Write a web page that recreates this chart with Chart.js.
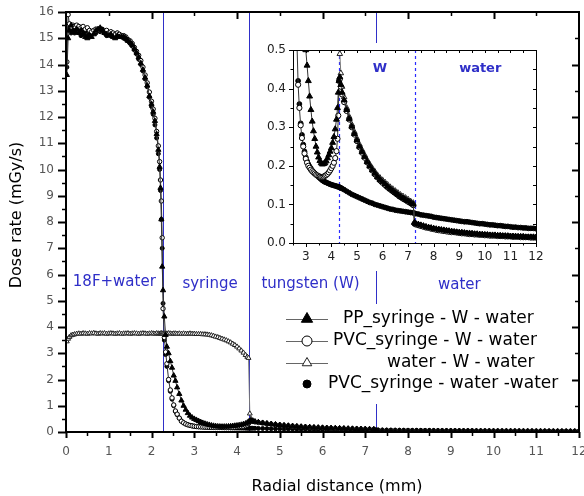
<!DOCTYPE html>
<html>
<head>
<meta charset="utf-8">
<script src="https://cdn.jsdelivr.net/npm/chart.js@4.4.1/dist/chart.umd.min.js"></script>
<style>
  html, body { margin: 0; padding: 0; background: #fff; }
  #wrap { position: relative; width: 584px; height: 496px; }
  #main { position: absolute; left: 0; top: 0; }
  #inset { position: absolute; left: 258px; top: 43px; background: #fff; }
</style>
</head>
<body>
<div id="wrap">
  <canvas id="main" width="584" height="496"></canvas>
  <canvas id="inset" width="290" height="228"></canvas>
</div>
<script>
// Radial distance (mm), shared by all four series
const radial = [
  0.02, 0.05, 0.08, 0.12, 0.16, 0.2, 0.25, 0.3, 0.35, 0.4, 0.45, 0.5, 0.55, 0.6, 0.65, 0.7, 0.75, 0.8, 0.85, 0.9, 0.95,
  1.0, 1.05, 1.1, 1.15, 1.2, 1.25, 1.3, 1.35, 1.4, 1.45, 1.5, 1.55, 1.6, 1.65, 1.7, 1.75, 1.8, 1.85, 1.9, 1.95, 2.0,
  2.04, 2.08, 2.12, 2.16, 2.19, 2.21, 2.23, 2.25, 2.27,
  2.3, 2.33, 2.36, 2.4, 2.44, 2.48, 2.52, 2.56, 2.6, 2.65, 2.7, 2.75, 2.8, 2.85, 2.9, 2.95, 3.0, 3.05, 3.1, 3.15,
  3.2, 3.25, 3.3, 3.35, 3.4, 3.45, 3.5, 3.55, 3.6, 3.65, 3.7, 3.75, 3.8, 3.85, 3.9, 3.95, 4.0, 4.05, 4.1, 4.15, 4.2, 4.24, 4.27,
  4.3, 4.33, 4.37, 4.42, 4.5, 4.6, 4.7, 4.8, 4.9, 5.0, 5.1, 5.2, 5.3, 5.4, 5.5, 5.6, 5.7, 5.8, 5.9, 6.0,
  6.1, 6.2, 6.3, 6.4, 6.5, 6.6, 6.7, 6.8, 6.9, 7.0, 7.1, 7.2,
  7.25, 7.3, 7.4, 7.5, 7.6, 7.7, 7.8, 7.9, 8.0, 8.1, 8.2, 8.3, 8.4, 8.5, 8.6, 8.7, 8.8, 8.9, 9.0, 9.1, 9.2, 9.3, 9.4,
  9.5, 9.6, 9.7, 9.8, 9.9, 10.0, 10.1, 10.2, 10.3, 10.4, 10.5, 10.6, 10.7, 10.8, 10.9, 11.0, 11.1, 11.2, 11.3, 11.4,
  11.5, 11.6, 11.7, 11.8, 11.9, 12.0
];

// Dose rate (mGy/s)
const ppSyringeW = [
  13.6, 15.0, 15.3, 15.5, 15.3, 15.25, 15.35, 15.2, 15.3, 15.2, 15.05, 15.0, 15.1, 15.05, 15.15, 15.3, 15.35, 15.4, 15.3, 15.2, 15.15,
  15.1, 15.15, 15.05, 15.0, 15.1, 15.05, 15.05, 15.05, 15.0, 14.9, 14.85, 14.75, 14.6, 14.45, 14.28, 14.05, 13.8, 13.5, 13.2, 12.8, 12.5,
  12.2, 11.85, 11.35, 10.75, 10.1, 9.3, 8.1, 6.3, 5.4,
  4.4, 3.7, 3.25, 3.0, 2.7, 2.45, 2.15, 1.95, 1.7, 1.45, 1.2, 1.0, 0.85, 0.72, 0.62, 0.55, 0.5, 0.46, 0.42, 0.38,
  0.345, 0.315, 0.29, 0.27, 0.25, 0.235, 0.222, 0.213, 0.207, 0.204, 0.205, 0.207, 0.212, 0.22, 0.228, 0.237, 0.246, 0.26, 0.275, 0.295, 0.32, 0.35, 0.39,
  0.42, 0.43, 0.41, 0.39, 0.37, 0.345, 0.322, 0.302, 0.283, 0.266, 0.25, 0.236, 0.223, 0.21, 0.199, 0.189, 0.18, 0.171, 0.164, 0.158,
  0.152, 0.146, 0.14, 0.135, 0.13, 0.125, 0.12, 0.116, 0.112, 0.108, 0.104, 0.1,
  0.053, 0.05, 0.048, 0.046, 0.044, 0.042, 0.04, 0.039, 0.037, 0.036, 0.035, 0.034, 0.033, 0.032, 0.031, 0.03, 0.029, 0.028, 0.027, 0.027, 0.026, 0.025, 0.025,
  0.024, 0.023, 0.023, 0.022, 0.022, 0.021, 0.021, 0.02, 0.02, 0.02, 0.019, 0.019, 0.018, 0.018, 0.018, 0.017, 0.017, 0.017, 0.016, 0.016,
  0.016, 0.015, 0.015, 0.015, 0.015, 0.014
];

const pvcSyringeW = [
  14.1, 15.9, 15.55, 15.4, 15.5, 15.45, 15.5, 15.45, 15.4, 15.45, 15.35, 15.4, 15.3, 15.25, 15.3, 15.35, 15.3, 15.35, 15.3, 15.25, 15.3,
  15.2, 15.25, 15.2, 15.15, 15.2, 15.15, 15.1, 15.1, 15.05, 14.95, 14.9, 14.8, 14.65, 14.5, 14.35, 14.15, 13.9, 13.6, 13.3, 12.95, 12.6,
  12.3, 11.95, 11.45, 10.9, 10.3, 9.6, 8.8, 7.4, 4.7,
  3.6, 3.05, 2.6, 2.0, 1.6, 1.3, 1.03, 0.8, 0.68, 0.53, 0.41, 0.35, 0.305, 0.272, 0.25, 0.232, 0.218, 0.208, 0.2, 0.195,
  0.19, 0.186, 0.183, 0.18, 0.177, 0.175, 0.173, 0.172, 0.171, 0.171, 0.172, 0.174, 0.176, 0.179, 0.183, 0.188, 0.194, 0.2, 0.208, 0.22, 0.238, 0.27, 0.33,
  0.42, 0.425, 0.405, 0.385, 0.365, 0.342, 0.32, 0.3, 0.281, 0.264, 0.248, 0.234, 0.221, 0.209, 0.198, 0.188, 0.178, 0.17, 0.162, 0.156,
  0.15, 0.144, 0.139, 0.134, 0.129, 0.124, 0.119, 0.115, 0.111, 0.107, 0.103, 0.098,
  0.05, 0.048, 0.046, 0.044, 0.042, 0.04, 0.039, 0.037, 0.036, 0.034, 0.033, 0.032, 0.031, 0.03, 0.029, 0.028, 0.028, 0.027, 0.026, 0.025, 0.025, 0.024, 0.023,
  0.023, 0.022, 0.022, 0.021, 0.021, 0.02, 0.02, 0.019, 0.019, 0.019, 0.018, 0.018, 0.018, 0.017, 0.017, 0.017, 0.016, 0.016, 0.016, 0.015,
  0.015, 0.015, 0.015, 0.014, 0.014, 0.014
];

const waterW = [
  3.45, 3.55, 3.62, 3.68, 3.7, 3.72, 3.74, 3.75, 3.74, 3.76, 3.75, 3.74, 3.76, 3.75, 3.77, 3.75, 3.74, 3.76, 3.75, 3.76, 3.74,
  3.75, 3.76, 3.75, 3.74, 3.75, 3.76, 3.74, 3.75, 3.75, 3.76, 3.74, 3.75, 3.76, 3.75, 3.74, 3.75, 3.76, 3.75, 3.74, 3.75, 3.76,
  3.75, 3.74, 3.76, 3.75, 3.74, 3.75, 3.76, 3.75, 3.74,
  3.75, 3.74, 3.75, 3.76, 3.75, 3.74, 3.75, 3.75, 3.74, 3.75, 3.74, 3.75, 3.74, 3.74, 3.75, 3.74, 3.74, 3.73, 3.73, 3.73,
  3.72, 3.72, 3.71, 3.7, 3.68, 3.66, 3.63, 3.61, 3.58, 3.55, 3.52, 3.49, 3.45, 3.41, 3.36, 3.31, 3.25, 3.18, 3.1, 3.02, 2.93, 2.86, 2.82,
  0.7, 0.49, 0.44, 0.405, 0.378, 0.35, 0.327, 0.307, 0.288, 0.271, 0.255, 0.241, 0.228, 0.215, 0.204, 0.194, 0.185, 0.176, 0.169, 0.163,
  0.157, 0.151, 0.145, 0.14, 0.135, 0.13, 0.125, 0.121, 0.117, 0.113, 0.108, 0.104,
  0.052, 0.049, 0.047, 0.045, 0.043, 0.041, 0.04, 0.038, 0.037, 0.035, 0.034, 0.033, 0.032, 0.031, 0.03, 0.029, 0.028, 0.028, 0.027, 0.026, 0.025, 0.025, 0.024,
  0.024, 0.023, 0.022, 0.022, 0.021, 0.021, 0.02, 0.02, 0.02, 0.019, 0.019, 0.018, 0.018, 0.018, 0.017, 0.017, 0.017, 0.016, 0.016, 0.016,
  0.016, 0.015, 0.015, 0.015, 0.015, 0.015
];

const pvcSyringeWater = [
  13.9, 15.3, 15.4, 15.2, 15.35, 15.2, 15.3, 15.25, 15.1, 15.15, 15.25, 15.1, 15.2, 15.15, 15.25, 15.2, 15.3, 15.25, 15.35, 15.2, 15.1,
  15.2, 15.1, 15.15, 15.05, 15.2, 15.1, 15.05, 15.0, 14.95, 14.9, 14.8, 14.7, 14.55, 14.4, 14.2, 14.0, 13.75, 13.45, 13.15, 12.75, 12.4,
  12.1, 11.7, 11.2, 10.6, 10.0, 9.2, 8.1, 7.0, 4.9,
  3.5, 2.95, 2.5, 1.95, 1.55, 1.25, 1.0, 0.78, 0.66, 0.53, 0.42, 0.36, 0.31, 0.28, 0.255, 0.237, 0.222, 0.212, 0.204, 0.198,
  0.193, 0.188, 0.184, 0.18, 0.177, 0.174, 0.171, 0.168, 0.165, 0.162, 0.16, 0.158, 0.157, 0.155, 0.154, 0.152, 0.151, 0.15, 0.149, 0.148, 0.147, 0.146, 0.146,
  0.145, 0.144, 0.143, 0.141, 0.138, 0.134, 0.13, 0.126, 0.123, 0.12, 0.117, 0.114, 0.111, 0.108, 0.105, 0.103, 0.1, 0.098, 0.096, 0.094,
  0.092, 0.09, 0.088, 0.087, 0.085, 0.084, 0.083, 0.082, 0.081, 0.08, 0.079, 0.078,
  0.077, 0.076, 0.075, 0.073, 0.072, 0.071, 0.07, 0.069, 0.067, 0.066, 0.065, 0.064, 0.063, 0.062, 0.061, 0.06, 0.059, 0.058, 0.057, 0.056, 0.055, 0.055, 0.054,
  0.053, 0.052, 0.051, 0.05, 0.05, 0.049, 0.048, 0.047, 0.047, 0.046, 0.045, 0.045, 0.044, 0.043, 0.043, 0.042, 0.041, 0.041, 0.04, 0.04,
  0.039, 0.039, 0.038, 0.038, 0.038, 0.037
];

const seriesNames = ['PP_syringe - W - water', 'PVC_syringe - W - water', 'water - W - water', 'PVC_syringe - water -water'];

// tick labels
const xTicks = [0, 1, 2, 3, 4, 5, 6, 7, 8, 9, 10, 11, 12];
const yTicks = [0, 1, 2, 3, 4, 5, 6, 7, 8, 9, 10, 11, 12, 13, 14, 15, 16];
const insetXTicks = [3, 4, 5, 6, 7, 8, 9, 10, 11, 12];
const insetYTicks = [0.0, 0.1, 0.2, 0.3, 0.4, 0.5];

// layer boundaries (mm) and region names
const boundaries = [2.27, 4.28, 7.25];
const mainRegions = [
  { text: '18F+water', x: 1.13, y: 5.7 },
  { text: 'syringe', x: 3.37, y: 5.65 },
  { text: 'tungsten (W)', x: 5.72, y: 5.65 },
  { text: 'water', x: 9.2, y: 5.6 }
];
const insetRegions = [
  { text: 'W', x: 5.9, y: 0.453 },
  { text: 'water', x: 9.82, y: 0.453 }
];

const FONT = '"DejaVu Sans", Verdana, sans-serif';
const BLUE = '#2f2fc8';

function points(vals) {
  return radial.map((x, i) => ({ x: x, y: vals[i] }));
}

function makeDatasets(r) {
  return [
    { label: seriesNames[0], data: points(ppSyringeW), showLine: true, borderColor: '#333', borderWidth: 1,
      pointStyle: 'triangle', pointRadius: r + 0.8, pointBackgroundColor: '#000', pointBorderColor: '#000', pointBorderWidth: 1 },
    { label: seriesNames[1], data: points(pvcSyringeW), showLine: true, borderColor: '#333', borderWidth: 1,
      pointStyle: 'circle', pointRadius: r, pointBackgroundColor: '#fff', pointBorderColor: '#000', pointBorderWidth: 1 },
    { label: seriesNames[2], data: points(waterW), showLine: true, borderColor: '#777', borderWidth: 1,
      pointStyle: 'triangle', pointRadius: r + 0.6, pointBackgroundColor: '#fff', pointBorderColor: '#222', pointBorderWidth: 1 },
    { label: seriesNames[3], data: points(pvcSyringeWater), showLine: false,
      pointStyle: 'circle', pointRadius: r - 0.2, pointBackgroundColor: '#000', pointBorderColor: '#000', pointBorderWidth: 1 }
  ];
}

function line(ctx, x1, y1, x2, y2) {
  ctx.beginPath();
  ctx.moveTo(x1, y1);
  ctx.lineTo(x2, y2);
  ctx.stroke();
}

// tick marks along a horizontal axis (dir +1 = down) or vertical axis (dir +1 = right)
function hTicks(ctx, scale, vals, y0, len, dir) {
  vals.forEach(v => {
    const px = Math.round(scale.getPixelForValue(v)) + 0.5;
    line(ctx, px, y0, px, y0 + len * dir);
  });
}
function vTicks(ctx, scale, vals, x0, len, dir) {
  vals.forEach(v => {
    const py = Math.round(scale.getPixelForValue(v)) + 0.5;
    line(ctx, x0, py, x0 + len * dir, py);
  });
}
function steps(from, to, step) {
  const out = [];
  for (let v = from; v <= to + 1e-9; v += step) out.push(Math.round(v * 1000) / 1000);
  return out;
}

const mainDecor = {
  id: 'mainDecor',
  beforeDatasetsDraw(chart) {
    const { ctx, chartArea: a, scales: { x } } = chart;
    ctx.save();
    ctx.strokeStyle = BLUE;
    ctx.lineWidth = 1;
    boundaries.forEach(b => {
      const px = Math.round(x.getPixelForValue(b)) + 0.5;
      line(ctx, px, a.top, px, a.bottom);
    });
    ctx.restore();
  },
  afterDraw(chart) {
    const { ctx, chartArea: a, scales: { x, y } } = chart;
    ctx.save();
    ctx.strokeStyle = '#000';

    // frame
    ctx.lineWidth = 2;
    ctx.strokeRect(a.left, a.top, a.right - a.left, a.bottom - a.top);

    // bottom & left: outward ticks
    ctx.lineWidth = 2;
    hTicks(ctx, x, steps(0, 12, 1), a.bottom, 6, 1);
    vTicks(ctx, y, steps(0, 16, 1), a.left, -8, 1);
    ctx.lineWidth = 1.5;
    hTicks(ctx, x, steps(0.5, 11.5, 1), a.bottom, 4, 1);
    vTicks(ctx, y, steps(0.5, 15.5, 1), a.left, -4, 1);
    // top & right: inward ticks
    ctx.lineWidth = 2;
    hTicks(ctx, x, steps(2, 10, 2), a.top, 7, 1);
    vTicks(ctx, y, steps(2, 14, 2), a.right, -7, 1);
    ctx.lineWidth = 1.5;
    hTicks(ctx, x, steps(1, 11, 2), a.top, 4, 1);
    vTicks(ctx, y, steps(1, 15, 2), a.right, -4, 1);

    // tick labels
    ctx.fillStyle = '#555';
    ctx.font = '12px ' + FONT;
    ctx.textAlign = 'center';
    ctx.textBaseline = 'middle';
    xTicks.forEach(v => ctx.fillText(String(v), x.getPixelForValue(v), a.bottom + 20));
    ctx.textAlign = 'right';
    yTicks.forEach(v => ctx.fillText(String(v), a.left - 12, y.getPixelForValue(v)));

    // axis titles
    ctx.fillStyle = '#000';
    ctx.font = '16px ' + FONT;
    ctx.textAlign = 'center';
    ctx.fillText('Radial distance (mm)', 337, 487);
    ctx.save();
    ctx.translate(17, 215);
    ctx.rotate(-Math.PI / 2);
    ctx.fillText('Dose rate (mGy/s)', 0, 0);
    ctx.restore();

    // region names
    ctx.fillStyle = BLUE;
    ctx.font = '15px ' + FONT;
    mainRegions.forEach(r => ctx.fillText(r.text, x.getPixelForValue(r.x), y.getPixelForValue(r.y)));

    // legend
    ctx.fillStyle = '#fff';
    ctx.fillRect(283, 304, 285, 100);
    const ds = chart.data.datasets;
    const rows = [
      { y: 319, tx: 343, big: 6.5 },
      { y: 341, tx: 333, big: 5 },
      { y: 363, tx: 387, big: 5.5 },
      { y: 384, tx: 328, big: 4 }
    ];
    rows.forEach((row, i) => {
      const d = ds[i];
      if (d.showLine) {
        ctx.strokeStyle = '#666';
        ctx.lineWidth = 1;
        line(ctx, 286, row.y + 0.5, 328, row.y + 0.5);
      }
      ctx.fillStyle = d.pointBackgroundColor;
      ctx.strokeStyle = d.pointBorderColor;
      ctx.lineWidth = 1;
      Chart.helpers.drawPoint(ctx, { pointStyle: d.pointStyle, radius: row.big, borderWidth: 1, rotation: 0 }, 307, row.y);
      ctx.fillStyle = '#000';
      ctx.font = '17px ' + FONT;
      ctx.textAlign = 'left';
      ctx.textBaseline = 'middle';
      ctx.fillText(d.label, row.tx, row.y);
    });
    ctx.restore();
  }
};

const insetDecor = {
  id: 'insetDecor',
  beforeDatasetsDraw(chart) {
    const { ctx, chartArea: a, scales: { x } } = chart;
    ctx.save();
    ctx.strokeStyle = '#2a2aff';
    ctx.lineWidth = 1.2;
    ctx.setLineDash([3, 3]);
    boundaries.slice(1).forEach(b => {
      const px = Math.round(x.getPixelForValue(b)) + 0.5;
      line(ctx, px, a.top, px, a.bottom);
    });
    ctx.restore();
  },
  afterDraw(chart) {
    const { ctx, chartArea: a, scales: { x, y } } = chart;
    ctx.save();
    ctx.strokeStyle = '#000';
    ctx.lineWidth = 1;
    ctx.strokeRect(a.left + 0.5, a.top + 0.5, a.right - a.left, a.bottom - a.top);

    hTicks(ctx, x, steps(3, 12, 1), a.bottom, 4, 1);
    hTicks(ctx, x, steps(2.5, 11.5, 1), a.bottom, 2.5, 1);
    vTicks(ctx, y, steps(0, 0.5, 0.1), a.left, -4, 1);
    vTicks(ctx, y, steps(0.05, 0.45, 0.1), a.left, -2.5, 1);
    hTicks(ctx, x, steps(3, 11.5, 0.5), a.top, 3, 1);
    vTicks(ctx, y, steps(0.05, 0.45, 0.05), a.right, -3, 1);

    ctx.fillStyle = '#222';
    ctx.font = '12px ' + FONT;
    ctx.textAlign = 'center';
    ctx.textBaseline = 'middle';
    insetXTicks.forEach(v => ctx.fillText(String(v), x.getPixelForValue(v), a.bottom + 14));
    ctx.textAlign = 'right';
    insetYTicks.forEach(v => ctx.fillText(v.toFixed(1), a.left - 7, y.getPixelForValue(v)));

    ctx.fillStyle = BLUE;
    ctx.font = 'bold 13px ' + FONT;
    ctx.textAlign = 'center';
    insetRegions.forEach(r => ctx.fillText(r.text, x.getPixelForValue(r.x), y.getPixelForValue(r.y)));
    ctx.restore();
  }
};

function baseOptions(xr, yr, yWidth, xHeight, pad) {
  return {
    responsive: false,
    animation: false,
    devicePixelRatio: 1,
    layout: { padding: pad },
    plugins: { legend: { display: false }, tooltip: { enabled: false } },
    scales: {
      x: { type: 'linear', min: xr[0], max: xr[1], grid: { display: false, drawTicks: false }, border: { display: false },
           ticks: { display: false }, afterFit(s) { s.height = xHeight; } },
      y: { type: 'linear', min: yr[0], max: yr[1], grid: { display: false, drawTicks: false }, border: { display: false },
           ticks: { display: false }, afterFit(s) { s.width = yWidth; } }
    }
  };
}

new Chart(document.getElementById('main'), {
  type: 'scatter',
  data: { datasets: makeDatasets(2.2) },
  options: baseOptions([0, 12], [0, 16], 66, 64, { top: 12, right: 2, left: 0, bottom: 0 }),
  plugins: [mainDecor]
});

new Chart(document.getElementById('inset'), {
  type: 'scatter',
  data: { datasets: makeDatasets(2.6) },
  options: baseOptions([2.5, 12], [0, 0.5], 35, 28, { top: 7, right: 12, left: 0, bottom: 0 }),
  plugins: [insetDecor]
});
</script>
</body>
</html>
